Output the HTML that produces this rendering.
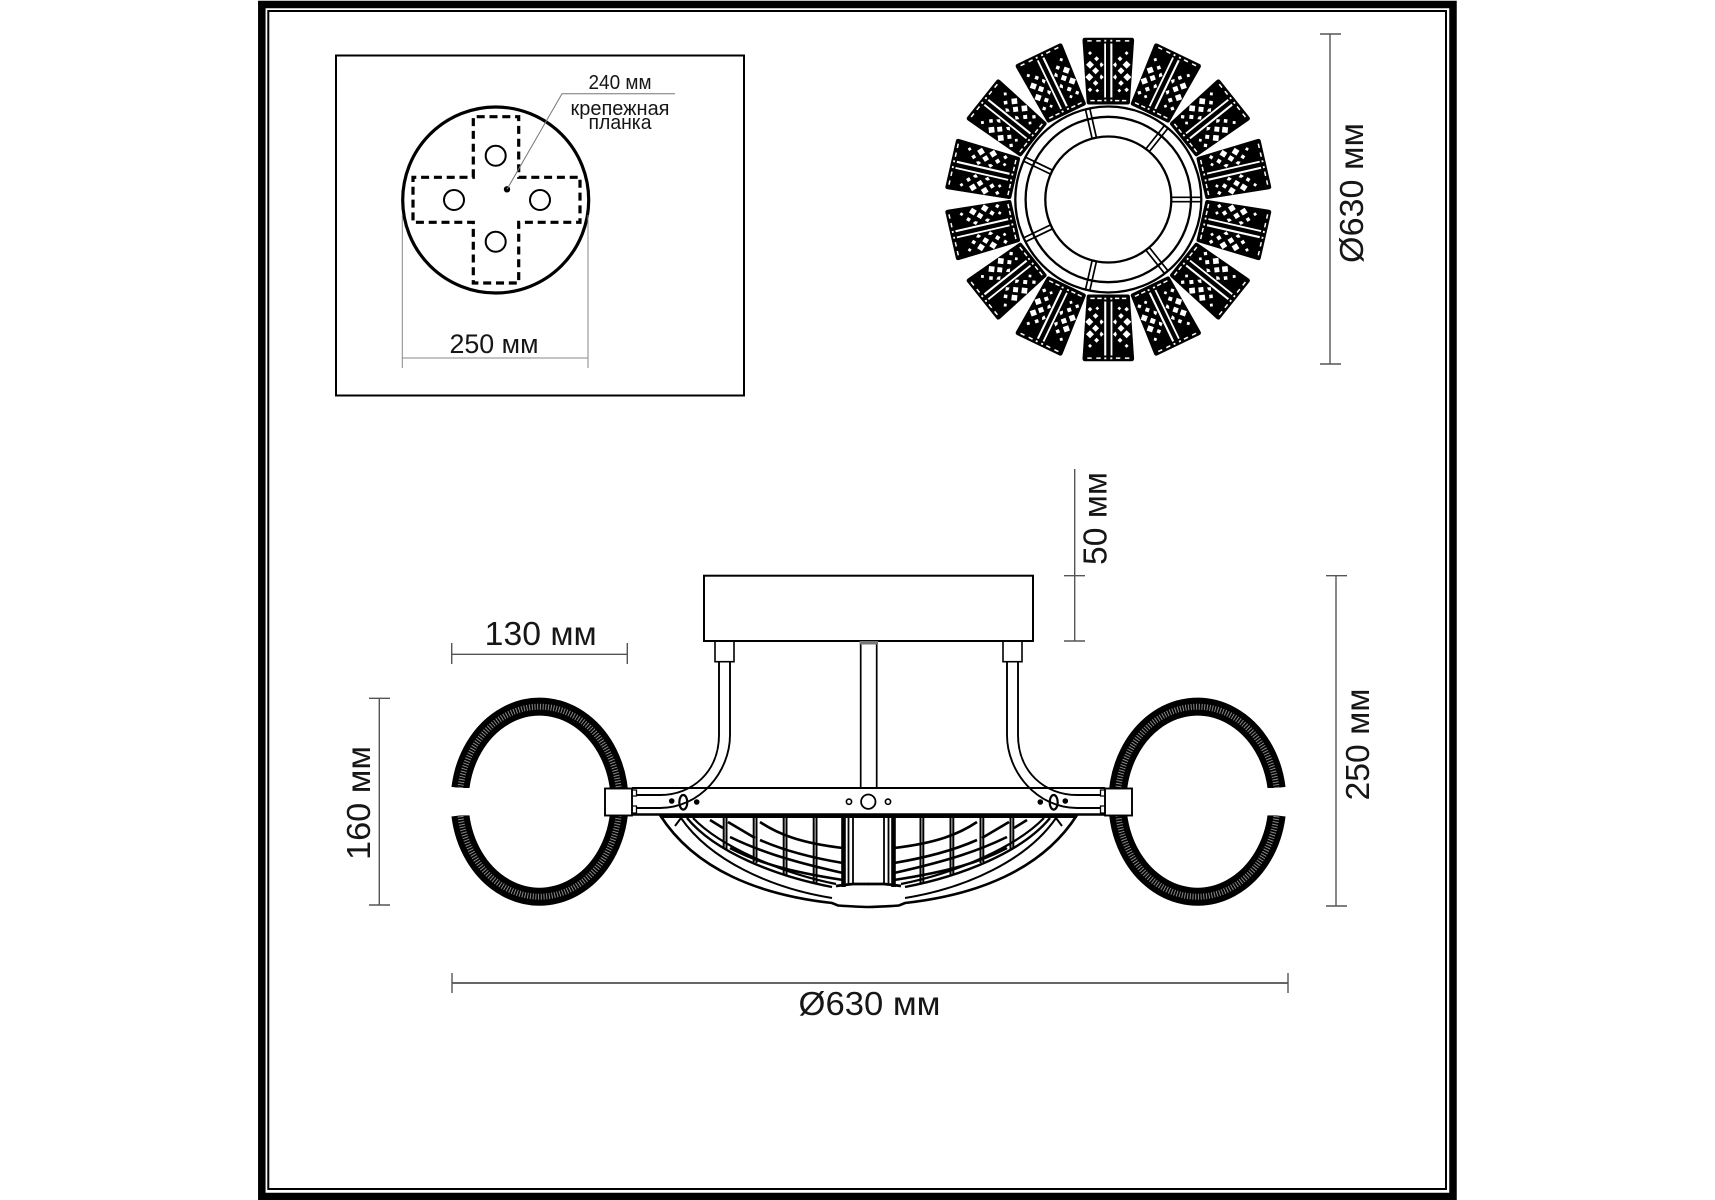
<!DOCTYPE html>
<html><head><meta charset="utf-8"><style>
html,body{margin:0;padding:0;background:#fff}
svg{display:block}
text{font-family:"Liberation Sans","DejaVu Sans",sans-serif;fill:#161616}
.d{stroke:#555;stroke-width:1.4;fill:none}
</style></head><body>
<svg width="1715" height="1200" viewBox="0 0 1715 1200" xmlns="http://www.w3.org/2000/svg">
<defs>
<g id="dh"><path d="M-18.3,-148.4 l2,2 -2,2 -2,-2z M-11.7,-143.2 l2.5,2.5 -2.5,2.5 -2.5,-2.5z M-18.3,-138.7 l4,4 -4,4 -4,-4z M-7.3,-137.4 l2.7,2.7 -2.7,2.7 -1.3,-2.7z M-12.7,-132.2 l3.5,3.5 -3.5,3.5 -3.5,-3.5z M-19,-126.4 l4,4 -4,4 -4,-4z M-7.3,-125.1 l2.7,2.7 -2.7,2.7 -1.3,-2.7z M-12.7,-119.2 l2.8,2.8 -2.8,2.8 -2.8,-2.8z M-18.3,-112 l2.3,2.3 -2.3,2.3 -2.3,-2.3z M-11,-110.8 l1.9,1.9 -1.9,1.9 -1.9,-1.9z M-21,-159.4h4.4v1.5h-4.4z M-12,-159.4h4.4v1.5h-4.4z M-4,-159.7h2v1.8h-2z M-18,-99.6h4.4v1.5h-4.4z M-11,-99.6h4.4v1.5h-4.4z M-4,-100h2v1.8h-2z" fill="#fff"/></g>
<g id="tile">
<path d="M-23.5,-161.7 H23.5 Q25.8,-161.7 25.8,-159 L21.6,-97 Q21.4,-95 19.5,-95 H-19.5 Q-21.4,-95 -21.6,-97 L-25.8,-159 Q-25.8,-161.7 -23.5,-161.7Z" fill="#000"/>
<rect x="-4.1" y="-156" width="1.8" height="54" fill="#fff"/>
<rect x="2" y="-156" width="2.1" height="54" fill="#fff"/>
<use href="#dh"/>
<use href="#dh" transform="scale(-1 1)"/>
</g>
<g id="spoke" fill="none" stroke="#000" stroke-width="1.7"><path d="M-2.2,-63 V-93 M2.2,-63 V-93"/></g>
<g id="half">
<!-- ring -->
<path d="M460.4,788 A80,95 0 1 1 460.4,815.4" fill="none" stroke="#000" stroke-width="18"/>
<path d="M460.4,788 A80,95 0 1 1 460.4,815.4" fill="none" stroke="#8a8a8a" stroke-width="6" stroke-dasharray="1 1.7"/>
<rect x="440" y="788" width="40" height="27.4" fill="#fff"/>
<!-- tube and connector -->
<rect x="715" y="641" width="19" height="20.7" fill="#fff" stroke="#000" stroke-width="1.6"/>
<g fill="none" stroke="#000" stroke-width="1.9">
<path d="M730,662 V735 C730,772 700,808 660,808 H637"/>
<path d="M719,662 V735 C719,772 692,795 660,795 H637"/>
</g>
<!-- block -->
<rect x="605" y="788.5" width="27" height="27" fill="#fff" stroke="#000" stroke-width="1.9"/>
<path d="M632,790 H636.5 V796 H632 M632,806 H636.5 V813 H632" fill="none" stroke="#000" stroke-width="1.3"/>
<!-- bar marks -->
<ellipse cx="683.3" cy="802.3" rx="4" ry="7.3" fill="none" stroke="#000" stroke-width="2.2"/>
<circle cx="671.7" cy="801" r="2.8"/><circle cx="696.7" cy="802" r="2.8"/>
<circle cx="849" cy="801.7" r="2.6" fill="none" stroke="#000" stroke-width="1.6"/>
<!-- bowl -->
<g fill="none" stroke="#000">
<path d="M660,815 C695,870 760,895 832,903 L838,905.5 Q860,907 868.5,907" stroke-width="2.6"/>
<path d="M675,826 L681,818 C710,860 770,888 832,898" stroke-width="2"/>
<path d="M687,818 C715,852 775,876 832,887" stroke-width="2.4"/>
<path d="M693,818 C720,846 780,873 836,884" stroke-width="2.2"/>
<path d="M836,886 Q843,885 853,884 H869" stroke-width="2.8"/>
<g stroke-width="2">
<path d="M723.7,817 V848 M726.5,817 V849"/>
<path d="M753.7,817 V862 M756.5,817 V863"/>
<path d="M783.7,817 V874 M786.5,817 V875"/>
<path d="M813.7,817 V882 M816.5,817 V883"/>
</g>
<path d="M843.5,817 V887" stroke-width="4.6"/>
<path d="M848.5,817 V885 M853,817 V885" stroke-width="1.8"/>
<g stroke-width="2.6">
<path d="M710,820 L723,828 M728,822 L755,838"/>
<path d="M760,822 C778,834 800,843 843,848"/>
<path d="M760,840 C785,851 813,858 843,863"/>
<path d="M730,837 C757,850 785,860 843,873"/>
<path d="M730,848 C757,862 785,871 843,880"/>
</g>
</g>
</g>
</defs>
<rect width="1715" height="1200" fill="#fff"/>
<!-- frame -->
<rect x="261.8" y="4.5" width="1191.2" height="1192" fill="none" stroke="#000" stroke-width="7.5"/>
<rect x="268.3" y="11" width="1177.7" height="1178" fill="none" stroke="#000" stroke-width="2"/>

<!-- mounting plate panel -->
<rect x="336" y="55.5" width="408" height="340" fill="none" stroke="#000" stroke-width="2"/>
<circle cx="495.7" cy="200" r="93" fill="none" stroke="#000" stroke-width="3.2"/>
<path d="M473.3,177.3 V116.7 H518.7 V177.3 H580 V222.3 H518.7 V283 H473.3 V222.3 H413 V177.3Z" fill="none" stroke="#000" stroke-width="3.2" stroke-dasharray="8 4.8"/>
<g fill="none" stroke="#000" stroke-width="2">
<circle cx="495.7" cy="155.7" r="10"/><circle cx="454" cy="200" r="10"/><circle cx="540" cy="200" r="10"/><circle cx="495.7" cy="241.7" r="10"/>
</g>
<circle cx="507" cy="189.3" r="3.2"/>
<path d="M507,189.3 L562,93.7 H675" fill="none" stroke="#777" stroke-width="1"/>
<path d="M402.3,215 V368 M588,215 V368 M402.3,358 H588" fill="none" stroke="#888" stroke-width="1"/>
<text x="620" y="89" font-size="20" text-anchor="middle" textLength="63" lengthAdjust="spacingAndGlyphs">240 мм</text>
<text x="620" y="115" font-size="20" text-anchor="middle" textLength="99" lengthAdjust="spacingAndGlyphs">крепежная</text>
<text x="620" y="129" font-size="20" text-anchor="middle" textLength="63" lengthAdjust="spacingAndGlyphs">планка</text>
<text x="494" y="353" font-size="27" text-anchor="middle" textLength="89" lengthAdjust="spacingAndGlyphs">250 мм</text>

<!-- top view -->
<g transform="translate(1108.3 199.5)">
<use href="#tile"/>
<use href="#tile" transform="rotate(25.714)"/>
<use href="#tile" transform="rotate(51.429)"/>
<use href="#tile" transform="rotate(77.143)"/>
<use href="#tile" transform="rotate(102.857)"/>
<use href="#tile" transform="rotate(128.571)"/>
<use href="#tile" transform="rotate(154.286)"/>
<use href="#tile" transform="rotate(180)"/>
<use href="#tile" transform="rotate(205.714)"/>
<use href="#tile" transform="rotate(231.429)"/>
<use href="#tile" transform="rotate(257.143)"/>
<use href="#tile" transform="rotate(282.857)"/>
<use href="#tile" transform="rotate(308.571)"/>
<use href="#tile" transform="rotate(334.286)"/>
<g fill="none" stroke="#000" stroke-width="2.3">
<circle r="93"/><circle r="82.7"/><circle r="63"/>
</g>
<g>
<use href="#spoke" transform="rotate(90)"/>
<use href="#spoke" transform="rotate(141.43)"/>
<use href="#spoke" transform="rotate(192.86)"/>
<use href="#spoke" transform="rotate(244.29)"/>
<use href="#spoke" transform="rotate(295.71)"/>
<use href="#spoke" transform="rotate(347.14)"/>
<use href="#spoke" transform="rotate(38.57)"/>
</g>
</g>
<path class="d" d="M1330,34 V364 M1320,34 H1341 M1320,364 H1341"/>
<text transform="translate(1363 193) rotate(-90)" font-size="33" text-anchor="middle" textLength="140" lengthAdjust="spacingAndGlyphs">Ø630 мм</text>

<!-- side view -->
<use href="#half"/>
<use href="#half" transform="translate(1737 0) scale(-1 1)"/>
<rect x="704" y="575.7" width="329" height="65.3" fill="#fff" stroke="#000" stroke-width="2"/>
<rect x="860.7" y="641" width="16" height="147" fill="#fff" stroke="#000" stroke-width="1.7"/>
<rect x="859.5" y="641" width="18.5" height="3.5" fill="#777"/>
<path d="M632,788 H1105" stroke="#000" stroke-width="1.9" fill="none"/>
<path d="M632,814.5 H1105" stroke="#000" stroke-width="2.4" fill="none"/>
<path d="M660,816.5 H1077" stroke="#000" stroke-width="3" fill="none"/>
<circle cx="868.3" cy="801.7" r="7.2" fill="#fff" stroke="#000" stroke-width="1.8"/>

<!-- dimensions -->
<path class="d" d="M451.7,654.3 H627.3 M451.7,643 V664 M627.3,643 V664"/>
<text x="540.7" y="645" font-size="33" text-anchor="middle" textLength="112" lengthAdjust="spacingAndGlyphs">130 мм</text>
<path class="d" d="M379.3,698.3 V905 M369,698.3 H390 M369,905 H390"/>
<text transform="translate(370 803) rotate(-90)" font-size="33" text-anchor="middle" textLength="114" lengthAdjust="spacingAndGlyphs">160 мм</text>
<path class="d" d="M1074.7,469 V641 M1064,575.7 H1085 M1064,641 H1085"/>
<text transform="translate(1106.7 518.5) rotate(-90)" font-size="33" text-anchor="middle" textLength="93" lengthAdjust="spacingAndGlyphs">50 мм</text>
<path class="d" d="M1336,575.7 V906 M1326,575.7 H1347 M1326,906 H1347"/>
<text transform="translate(1369 744.5) rotate(-90)" font-size="33" text-anchor="middle" textLength="112" lengthAdjust="spacingAndGlyphs">250 мм</text>
<path d="M452,983 H1288" stroke="#666" stroke-width="2" fill="none"/>
<path class="d" d="M452,973 V993 M1288,973 V993"/>
<text x="869.5" y="1015" font-size="33" text-anchor="middle" textLength="142" lengthAdjust="spacingAndGlyphs">Ø630 мм</text>
</svg>
</body></html>
